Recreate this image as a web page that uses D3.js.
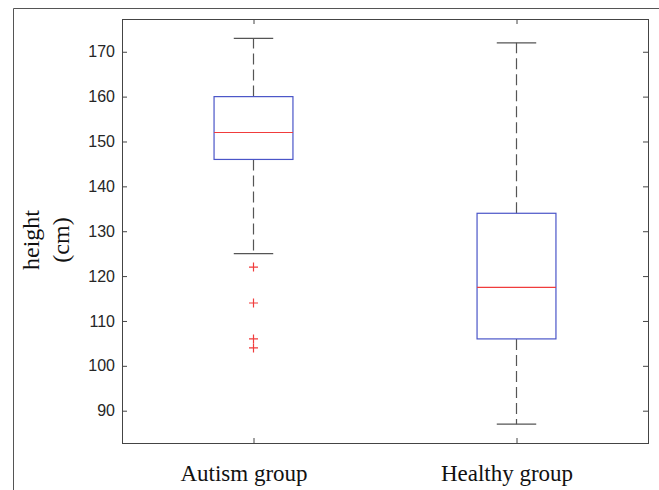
<!DOCTYPE html>
<html>
<head>
<meta charset="utf-8">
<script src="https://cdn.jsdelivr.net/npm/d3@7"></script>
<style>
  body { margin: 0; background: #fff; }
  svg { display: block; }
</style>
</head>
<body>
<div id="chart"></div>
<script>
// Box plot data
var groups = ["Autism group", "Healthy group"];
var q1 = [146, 106];
var medians = [152, 117.5];
var q3 = [160, 134];
var whiskerLow = [125, 87];
var whiskerHigh = [173, 172];
var outliers = [[122, 114, 106, 104], []];
var yTicks = [90, 100, 110, 120, 130, 140, 150, 160, 170];

var width = 659,
    height = 490;
var margin = { top: 19, right: 11, bottom: 47, left: 122 };

var svg = d3.select("#chart")
    .append("svg")
    .attr("width", width)
    .attr("height", height);

// outer figure frame (runs off the right and bottom)
svg.append("path")
    .attr("d", "M13.5," + height + "V8.5H" + width)
    .attr("fill", "none")
    .attr("stroke", "#555")
    .attr("stroke-width", 1);

var x = d3.scaleLinear()
    .domain([0.5, groups.length + 0.5])
    .range([margin.left, width - margin.right]);

var y = d3.scaleLinear()
    .domain([82.8, 177.3])
    .range([height - margin.bottom, margin.top]);

var boxW = 0.3,
    capW = 0.15;

var data = groups.map(function(g, i) {
    return { name: g, pos: i + 1, q1: q1[i], med: medians[i], q3: q3[i],
             lo: whiskerLow[i], hi: whiskerHigh[i], out: outliers[i] };
});

// axes
var axisColor = "#444";
var axLeft = svg.append("g")
    .attr("transform", "translate(" + margin.left + ",0)")
    .call(d3.axisLeft(y).tickValues(yTicks).tickSize(-5).tickPadding(7));
var axRight = svg.append("g")
    .attr("transform", "translate(" + (width - margin.right) + ",0)")
    .call(d3.axisRight(y).tickValues(yTicks).tickSize(-5).tickFormat(""));
var axBottom = svg.append("g")
    .attr("transform", "translate(0," + (height - margin.bottom) + ")")
    .call(d3.axisBottom(x).tickValues([1, 2]).tickSize(-5).tickFormat(function(d) { return groups[d - 1]; }));
var axTop = svg.append("g")
    .attr("transform", "translate(0," + margin.top + ")")
    .call(d3.axisTop(x).tickValues([1, 2]).tickSize(-5).tickFormat(""));

[axLeft, axRight, axBottom, axTop].forEach(function(a) {
    a.select(".domain").remove();
    a.selectAll(".tick line").attr("stroke", axisColor);
});

axLeft.selectAll("text")
    .attr("fill", "#262626")
    .style("font-family", "Liberation Sans, Arial, sans-serif")
    .style("font-size", "16px");

axBottom.selectAll("text")
    .attr("fill", "#111")
    .attr("y", 38)
    .attr("dy", 0)
    .attr("x", -10)
    .style("font-family", "Liberation Serif, Times New Roman, serif")
    .style("font-size", "23px");

svg.append("rect")
    .attr("x", margin.left + 0.5)
    .attr("y", margin.top + 0.5)
    .attr("width", width - margin.right - margin.left)
    .attr("height", height - margin.bottom - margin.top)
    .attr("fill", "none")
    .attr("stroke", axisColor);

// y label on two lines
var ylab = svg.append("g")
    .style("font-family", "Liberation Serif, Times New Roman, serif")
    .style("font-size", "24px")
    .attr("fill", "#111")
    .attr("text-anchor", "middle");
ylab.append("text")
    .attr("transform", "translate(39,240) rotate(-90)")
    .text("height");
ylab.append("text")
    .attr("transform", "translate(69,240) rotate(-90)")
    .text("(cm)");

// boxes
var box = svg.append("g")
    .selectAll("g")
    .data(data)
    .enter()
    .append("g");

// dashed whiskers
box.append("line")
    .attr("x1", d => x(d.pos)).attr("x2", d => x(d.pos))
    .attr("y1", d => y(d.q3)).attr("y2", d => y(d.hi))
    .attr("stroke", "#555").attr("stroke-width", 1.2)
    .attr("stroke-dasharray", "11,5");
box.append("line")
    .attr("x1", d => x(d.pos)).attr("x2", d => x(d.pos))
    .attr("y1", d => y(d.q1)).attr("y2", d => y(d.lo))
    .attr("stroke", "#555").attr("stroke-width", 1.2)
    .attr("stroke-dasharray", "11,5");

// caps
box.append("line")
    .attr("x1", d => x(d.pos - capW / 2)).attr("x2", d => x(d.pos + capW / 2))
    .attr("y1", d => y(d.hi)).attr("y2", d => y(d.hi))
    .attr("stroke", "#555").attr("stroke-width", 1.2);
box.append("line")
    .attr("x1", d => x(d.pos - capW / 2)).attr("x2", d => x(d.pos + capW / 2))
    .attr("y1", d => y(d.lo)).attr("y2", d => y(d.lo))
    .attr("stroke", "#555").attr("stroke-width", 1.2);

box.append("rect")
    .attr("x", d => x(d.pos - boxW / 2))
    .attr("y", d => y(d.q3))
    .attr("width", d => x(d.pos + boxW / 2) - x(d.pos - boxW / 2))
    .attr("height", d => y(d.q1) - y(d.q3))
    .attr("fill", "none")
    .attr("stroke", "#4a55c8")
    .attr("stroke-width", 1.2);

box.append("line")
    .attr("x1", d => x(d.pos - boxW / 2)).attr("x2", d => x(d.pos + boxW / 2))
    .attr("y1", d => y(d.med)).attr("y2", d => y(d.med))
    .attr("stroke", "#f03c3c").attr("stroke-width", 1.2);

// outliers as red plus signs
box.selectAll(".out")
    .data(d => d.out.map(v => ({ pos: d.pos, v: v })))
    .enter()
    .append("path")
    .attr("class", "out")
    .attr("d", function(d) {
        var cx = x(d.pos), cy = y(d.v), r = 4.5;
        return "M" + (cx - r) + "," + cy + "H" + (cx + r) + "M" + cx + "," + (cy - r) + "V" + (cy + r);
    })
    .attr("stroke", "#f03c3c")
    .attr("stroke-width", 1.2)
    .attr("fill", "none");
</script>
</body>
</html>
